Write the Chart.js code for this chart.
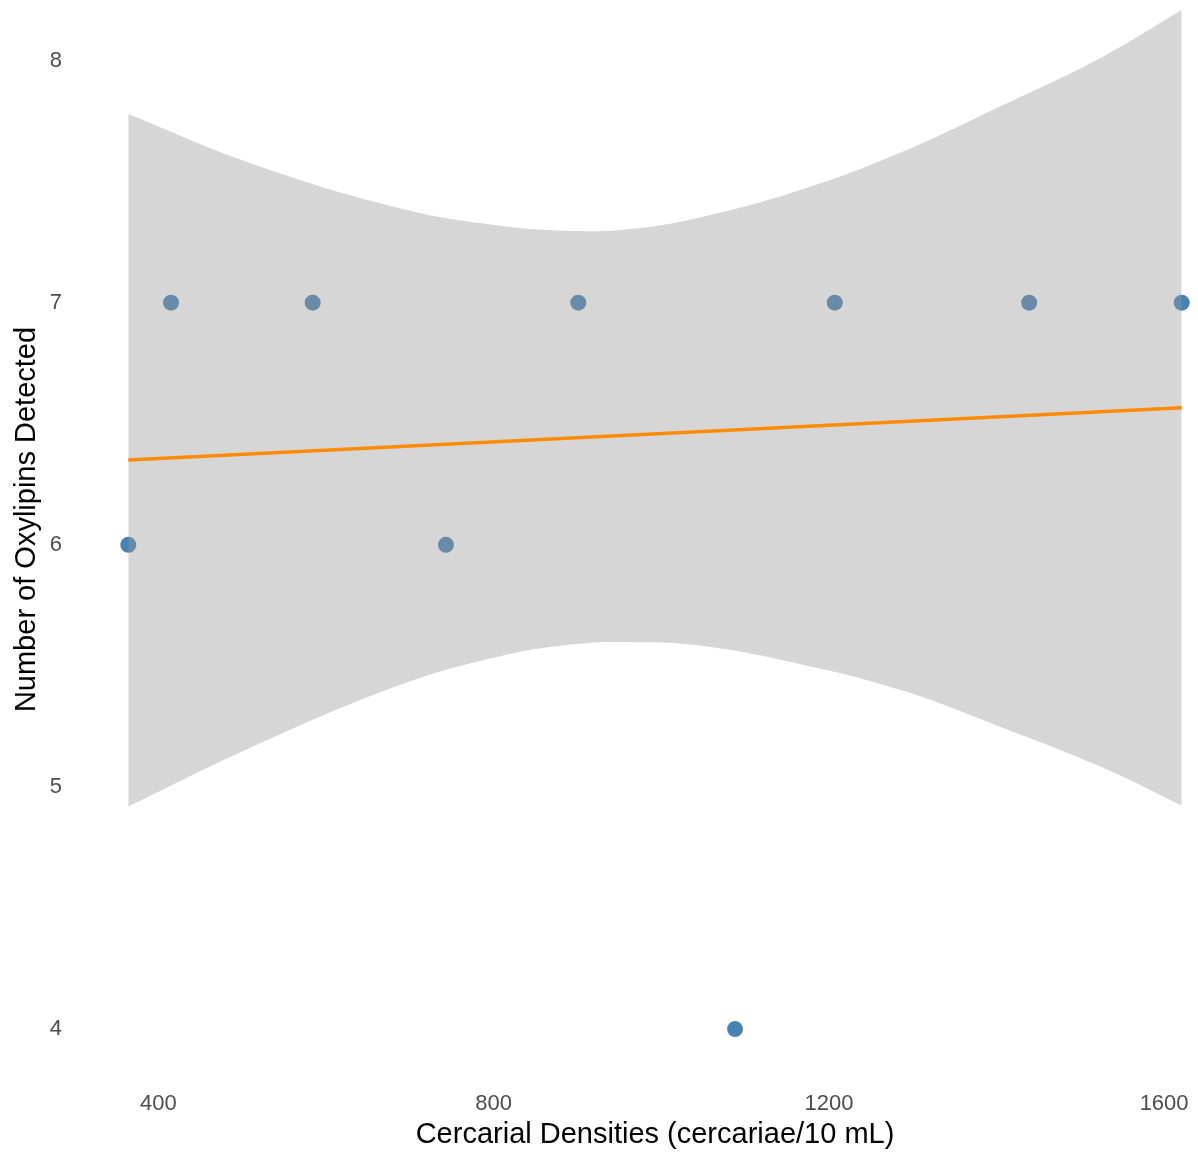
<!DOCTYPE html>
<html>
<head>
<meta charset="utf-8">
<script src="https://cdn.jsdelivr.net/npm/chart.js@4.4.1/dist/chart.umd.min.js"></script>
<style>
    html, body { margin: 0; padding: 0; width: 1198px; height: 1152px; overflow: hidden; background: #ffffff; }
    /* o gráfico original está recortado no topo e à direita */
    #wrap { position: absolute; left: 0; top: -41px; }
</style>
</head>
<body>
<div id="wrap"><canvas id="chart" width="1240" height="1200"></canvas></div>
<script>
// Pontos observados
const densities = [364, 415, 584, 743, 901, 1088, 1207, 1439, 1621];
const oxylipins = [6, 7, 7, 6, 7, 4, 7, 7, 7];

// Reta de regressão (extremos)
const fitX = [364, 1621];
const fitY = [6.35, 6.566];

// Faixa de confiança
const bandX     = [364,   509,   688,   808,   899,   966,   1046,  1165,  1285,  1404,  1524,  1621];
const bandUpper = [7.779, 7.577, 7.390, 7.318, 7.296, 7.305, 7.352, 7.464, 7.619, 7.810, 8.011, 8.209];
const bandLower = [4.919, 5.161, 5.421, 5.540, 5.590, 5.598, 5.584, 5.508, 5.401, 5.249, 5.084, 4.923];

// Marcas dos eixos
const xTicks = [400, 800, 1200, 1600];
const yTicks = [4, 5, 6, 7, 8];

const FONT = "'Liberation Sans', Arial, Helvetica, sans-serif";
const TICK_COLOR = '#4D4D4D';

function toXY(xs, ys) {
    return xs.map((x, i) => ({ x: x, y: ys[i] }));
}

// Remove o espaço extra que o Chart.js reserva para os rótulos nas pontas
function noScalePadding(scale) {
    scale.paddingLeft = 0;
    scale.paddingRight = 0;
    scale.paddingTop = 0;
    scale.paddingBottom = 0;
}

new Chart(document.getElementById('chart'), {
    type: 'scatter',
    data: {
        datasets: [
            {
                type: 'line',
                label: 'Ajuste',
                data: toXY(fitX, fitY),
                borderColor: '#FF8C00',
                borderWidth: 3.5,
                pointRadius: 0,
                fill: false,
                order: 0
            },
            {
                type: 'line',
                label: 'IC superior',
                data: toXY(bandX, bandUpper),
                borderColor: 'rgba(0,0,0,0)',
                borderWidth: 0,
                pointRadius: 0,
                tension: 0.4,
                backgroundColor: 'rgba(153,153,153,0.4)',
                fill: '+1',
                order: 1
            },
            {
                type: 'line',
                label: 'IC inferior',
                data: toXY(bandX, bandLower),
                borderColor: 'rgba(0,0,0,0)',
                borderWidth: 0,
                pointRadius: 0,
                tension: 0.4,
                fill: false,
                order: 2
            },
            {
                label: 'Amostras',
                data: toXY(densities, oxylipins),
                backgroundColor: '#4682B4',
                borderWidth: 0,
                pointRadius: 8,
                pointHoverRadius: 8,
                order: 3
            }
        ]
    },
    options: {
        responsive: false,
        animation: false,
        events: [],
        layout: {
            autoPadding: false,
            padding: { left: 0, right: 5.5, top: 0, bottom: 0 }
        },
        plugins: {
            legend: { display: false },
            tooltip: { enabled: false }
        },
        scales: {
            x: {
                type: 'linear',
                position: 'bottom',
                min: 301,
                max: 1684,
                grid: { display: false, drawTicks: false },
                border: { display: false },
                afterBuildTicks: function(scale) {
                    scale.ticks = xTicks.map(v => ({ value: v }));
                },
                afterFit: function(scale) {
                    scale.height = 79;
                    noScalePadding(scale);
                },
                ticks: {
                    color: TICK_COLOR,
                    padding: 11,
                    maxRotation: 0,
                    callback: v => String(v),
                    font: { family: FONT, size: 22 }
                },
                title: {
                    display: true,
                    text: 'Cercarial Densities (cercariae/10 mL)',
                    color: '#000000',
                    padding: { top: 0, bottom: 10 },
                    font: { family: FONT, size: 29, lineHeight: 1 }
                }
            },
            y: {
                type: 'linear',
                min: 3.7895,
                max: 8.4195,
                grid: { display: false, drawTicks: false },
                border: { display: false },
                afterBuildTicks: function(scale) {
                    scale.ticks = yTicks.map(v => ({ value: v }));
                },
                afterFit: function(scale) {
                    scale.width = 75.5;
                    noScalePadding(scale);
                },
                ticks: {
                    color: TICK_COLOR,
                    padding: 13.5,
                    callback: v => String(v),
                    font: { family: FONT, size: 22 }
                },
                title: {
                    display: true,
                    text: 'Number of Oxylipins Detected',
                    color: '#000000',
                    padding: { top: 12, bottom: 0 },
                    font: { family: FONT, size: 29, lineHeight: 1 }
                }
            }
        }
    }
});
</script>
</body>
</html>
